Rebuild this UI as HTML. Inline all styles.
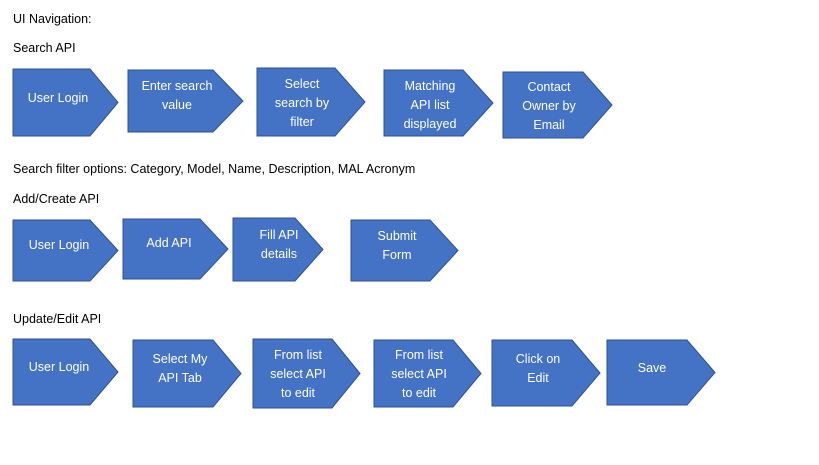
<!DOCTYPE html>
<html><head><style>
body{margin:0;background:#fff;}
svg text{font-family:"Liberation Sans",sans-serif;font-size:12.5px;}
.s{fill:#4472C4;stroke:#2F528F;stroke-width:1;}
.w{fill:#fff;text-anchor:middle;}
</style></head><body>
<svg width="819" height="460" xmlns="http://www.w3.org/2000/svg">
<text x="13" y="23">UI Navigation:</text>
<text x="13" y="52">Search API</text>
<text x="13" y="173">Search filter options: Category, Model, Name, Description, MAL Acronym</text>
<text x="13" y="203">Add/Create API</text>
<text x="13" y="323">Update/Edit API</text>
<!-- row1 -->
<polygon class="s" points="13,69 90,69 118,102.5 90,136 13,136"/>
<text class="w" x="58" y="102">User Login</text>
<polygon class="s" points="128,70 213,70 243,101 213,132 128,132"/>
<text class="w" x="177" y="90">Enter search</text><text class="w" x="177" y="109">value</text>
<polygon class="s" points="257,68 335,68 365,102 335,136 257,136"/>
<text class="w" x="302" y="88">Select</text><text class="w" x="302" y="107">search by</text><text class="w" x="302" y="126">filter</text>
<polygon class="s" points="384,70 463,70 493,103 463,136 384,136"/>
<text class="w" x="430" y="90">Matching</text><text class="w" x="430" y="109">API list</text><text class="w" x="430" y="128">displayed</text>
<polygon class="s" points="503,72 583,72 612,105 583,138 503,138"/>
<text class="w" x="549" y="91">Contact</text><text class="w" x="549" y="110">Owner by</text><text class="w" x="549" y="129">Email</text>
<!-- row2 -->
<polygon class="s" points="13,220 90,220 118,250.5 90,281 13,281"/>
<text class="w" x="59" y="249">User Login</text>
<polygon class="s" points="123,219 200,219 228,249 200,279 123,279"/>
<text class="w" x="169" y="247">Add API</text>
<polygon class="s" points="233,218 295,218 323,249.5 295,281 233,281"/>
<text class="w" x="279" y="239">Fill API</text><text class="w" x="279" y="258">details</text>
<polygon class="s" points="351,220 430,220 458,250.5 430,281 351,281"/>
<text class="w" x="397" y="240">Submit</text><text class="w" x="397" y="259">Form</text>
<!-- row3 -->
<polygon class="s" points="13,339 90,339 118,372 90,405 13,405"/>
<text class="w" x="59" y="371">User Login</text>
<polygon class="s" points="133,340 213,340 241,373.5 213,407 133,407"/>
<text class="w" x="180" y="363">Select My</text><text class="w" x="180" y="382">API Tab</text>
<polygon class="s" points="253,339 332,339 360,373.5 332,408 253,408"/>
<text class="w" x="298" y="359">From list</text><text class="w" x="298" y="378">select API</text><text class="w" x="298" y="397">to edit</text>
<polygon class="s" points="374,340 453,340 481,373.5 453,407 374,407"/>
<text class="w" x="419" y="359">From list</text><text class="w" x="419" y="378">select API</text><text class="w" x="419" y="397">to edit</text>
<polygon class="s" points="492,340 572,340 600,373 572,406 492,406"/>
<text class="w" x="538" y="363">Click on</text><text class="w" x="538" y="382">Edit</text>
<polygon class="s" points="607,340 687,340 715,372.5 687,405 607,405"/>
<text class="w" x="652" y="372">Save</text>
</svg>
</body></html>
